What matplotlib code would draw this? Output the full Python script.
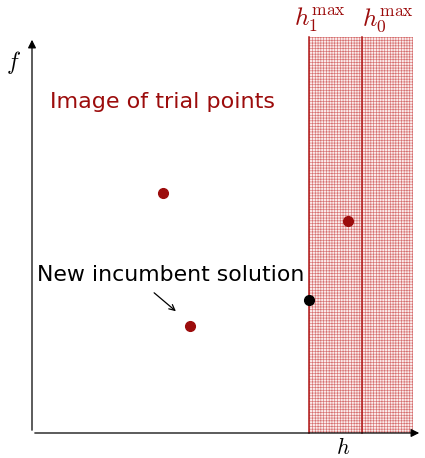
import matplotlib.pyplot as plt

plt.rcParams['mathtext.fontset'] = 'cm'
plt.rcParams['hatch.linewidth'] = 0.45

# trial points (h, f)
trial_h = [131, 158, 316]
trial_f = [240, 107, 212]
incumbent_h = [277]
incumbent_f = [133]
h1_max = 277
h0_max = 330
h_end = 381
f_top = 396

red = '#9c0c0c'

fig = plt.figure(figsize=(4.25, 4.58), dpi=100)
ax = fig.add_axes([0, 0, 1, 1])
ax.set_xlim(-32, 393)
ax.set_ylim(-25, 433)
ax.axis('off')

# shaded infeasible region
ax.fill_between([h1_max, h_end], 0, f_top, facecolor='#fbecec',
                edgecolor='#d67070', hatch='++++++', linewidth=0)
ax.plot([h1_max, h1_max], [0, f_top], color='#b01818', lw=1.1)
ax.plot([h0_max, h0_max], [0, f_top], color='#b01818', lw=1.1)

# axes with arrows
ax.annotate('', xy=(390, 0), xytext=(0, 0),
            arrowprops=dict(arrowstyle='-|>', color='black', lw=0.9, mutation_scale=12))
ax.annotate('', xy=(0, f_top), xytext=(0, 0),
            arrowprops=dict(arrowstyle='-|>', color='black', lw=0.9, mutation_scale=12))

ax.plot(trial_h, trial_f, 'o', color=red, ms=7)
ax.plot(incumbent_h, incumbent_f, 'o', color='black', ms=7)

ax.text(18, 331, 'Image of trial points', color=red, fontsize=16, va='center')
ax.text(5, 158, 'New incumbent solution', color='black', fontsize=15.8, va='center')
ax.annotate('', xy=(146, 120), xytext=(120, 142),
            arrowprops=dict(arrowstyle='->', color='black', lw=0.9))

ax.text(-18, 371, '$f$', fontsize=17, ha='center', va='center')
ax.text(311, -15, '$h$', fontsize=16, ha='center', va='center')
ax.text(h1_max + 11, 413, r'$h_1^{\max}$', fontsize=18, color=red, ha='center', va='center')
ax.text(h0_max + 26, 413, r'$h_0^{\max}$', fontsize=18, color=red, ha='center', va='center')

plt.savefig('out.png')
